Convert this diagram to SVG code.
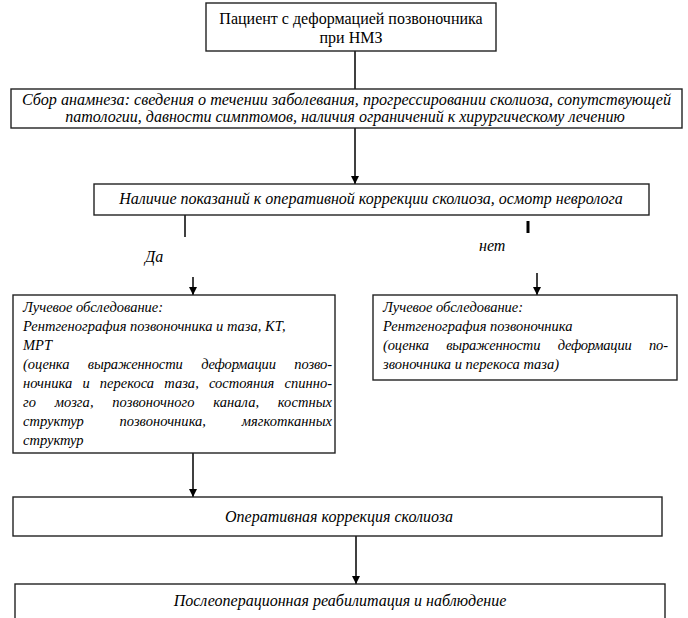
<svg xmlns="http://www.w3.org/2000/svg" width="688" height="618" viewBox="0 0 688 618">
<defs>
<marker id="ah" viewBox="0 0 8 10" refX="8" refY="5" markerWidth="8" markerHeight="10" markerUnits="userSpaceOnUse" orient="auto">
<path d="M0,1 L8,5 L0,9 Z" fill="#000"/>
</marker>
<style>
.box{fill:#fff;stroke:#222;stroke-width:1.4}
.t{fill:#000}
.up{font-size:16px}
.it{font-size:16px;font-style:italic}
.sm{font-size:14.5px;font-style:italic}
.c{text-anchor:middle}
.ln{stroke:#000;stroke-width:1.5;fill:none}
</style>
</defs>
<rect width="688" height="618" fill="#fff"/>
<g font-family="Liberation Serif, serif">
<g id="connectors">
<line class="ln" x1="355" y1="51" x2="355" y2="89"/>
<line class="ln" x1="355" y1="128" x2="355" y2="184" marker-end="url(#ah)"/>
<line class="ln" x1="185" y1="215" x2="185" y2="237"/>
<line class="ln" x1="193" y1="277" x2="193" y2="295" marker-end="url(#ah)"/>
<line class="ln" x1="528" y1="221" x2="528" y2="233" style="stroke-width:3"/>
<line class="ln" x1="537" y1="273" x2="537" y2="295" marker-end="url(#ah)"/>
<line class="ln" x1="193" y1="453" x2="193" y2="497" marker-end="url(#ah)"/>
<line class="ln" x1="356" y1="536" x2="356" y2="584" marker-end="url(#ah)"/>
<text class="t it" x="145" y="262">Да</text>
<text class="t it" x="479" y="251">нет</text>
</g>
<g id="n1">
<rect class="box" x="206" y="3" width="290" height="48"/>
<text class="t up c" x="351" y="24">Пациент с деформацией позвоночника</text>
<text class="t up c" x="351" y="43">при НМЗ</text>
</g>
<g id="n2">
<rect class="box" x="11" y="89" width="671" height="39"/>
<text class="t it" x="22" y="105" textLength="649" lengthAdjust="spacingAndGlyphs">Сбор анамнеза: сведения о течении заболевания, прогрессировании сколиоза, сопутствующей</text>
<text class="t it c" x="345" y="122">патологии, давности симптомов, наличия ограничений к хирургическому лечению</text>
</g>
<g id="n3">
<rect class="box" x="94" y="184" width="555" height="31"/>
<text class="t it c" x="371" y="204">Наличие показаний к оперативной коррекции сколиоза, осмотр невролога</text>
</g>
<g id="n4">
<rect class="box" x="13" y="295" width="322" height="158"/>
<text class="t sm" x="23" y="312">Лучевое обследование:</text>
<text class="t sm" x="23" y="331">Рентгенография позвоночника и таза, КТ,</text>
<text class="t sm" x="23" y="350">МРТ</text>
<text class="t sm" x="23" y="369" word-spacing="15" textLength="309" lengthAdjust="spacing">(оценка выраженности деформации позво-</text>
<text class="t sm" x="23" y="388" word-spacing="6.5" textLength="309" lengthAdjust="spacing">ночника и перекоса таза, состояния спинно-</text>
<text class="t sm" x="23" y="407" word-spacing="15" textLength="309" lengthAdjust="spacing">го мозга, позвоночного канала, костных</text>
<text class="t sm" x="23" y="426" word-spacing="32" textLength="309" lengthAdjust="spacing">структур позвоночника, мягкотканных</text>
<text class="t sm" x="23" y="445">структур</text>
</g>
<g id="n5">
<rect class="box" x="373" y="295" width="304" height="85"/>
<text class="t sm" x="383" y="312">Лучевое обследование:</text>
<text class="t sm" x="383" y="331">Рентгенография позвоночника</text>
<text class="t sm" x="383" y="350" word-spacing="14" textLength="285" lengthAdjust="spacing">(оценка выраженности деформации по-</text>
<text class="t sm" x="383" y="369">звоночника и перекоса таза)</text>
</g>
<g id="n6">
<rect class="box" x="13" y="497" width="649" height="39"/>
<text class="t it c" x="339" y="522">Оперативная коррекция сколиоза</text>
</g>
<g id="n7">
<rect class="box" x="15" y="584" width="650" height="60"/>
<text class="t it c" x="340" y="606">Послеоперационная реабилитация и наблюдение</text>
</g>
</g>
</svg>
